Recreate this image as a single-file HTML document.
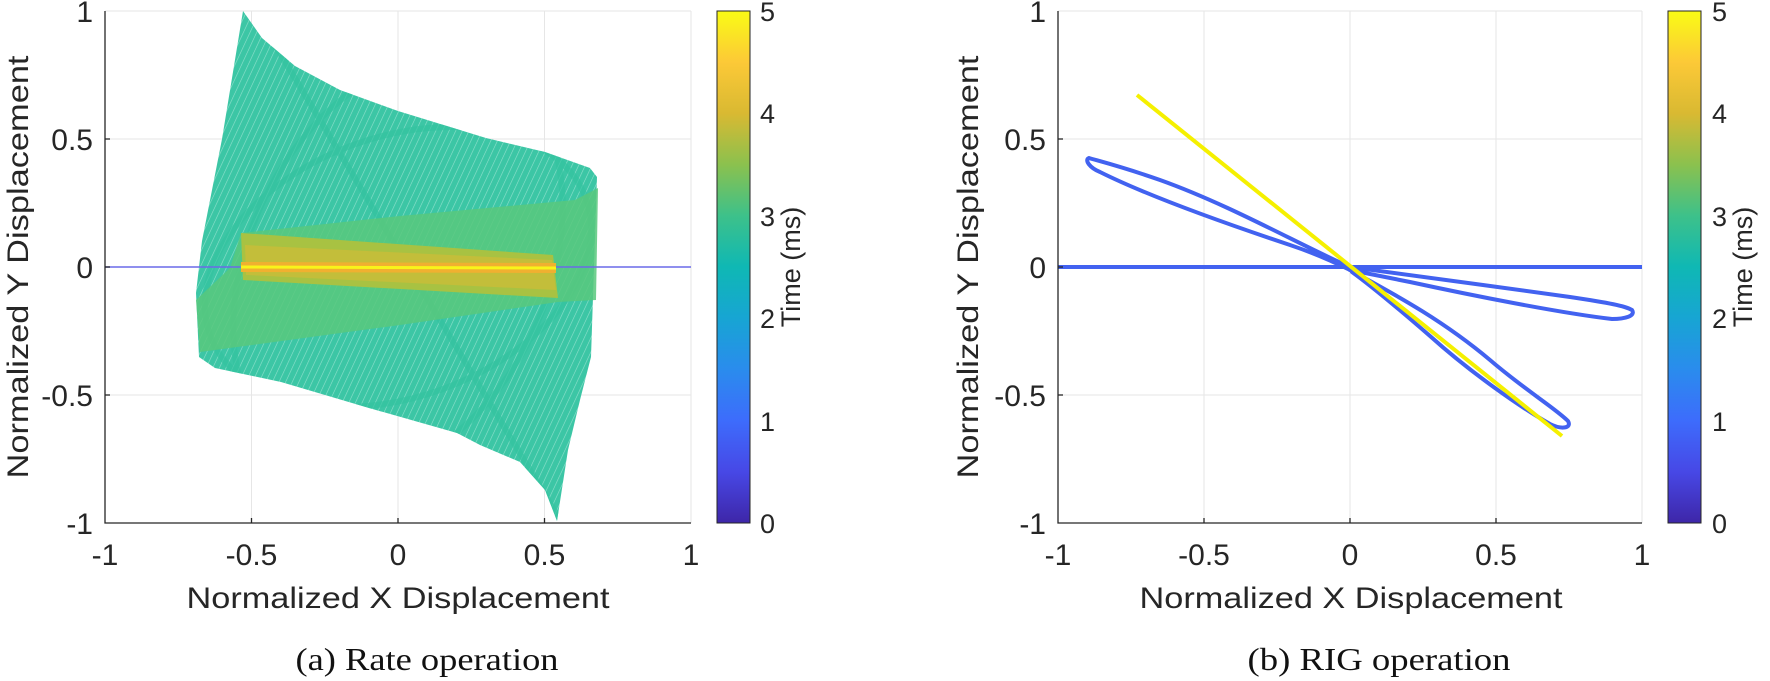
<!DOCTYPE html>
<html><head><meta charset="utf-8"><style>
html,body{margin:0;padding:0;background:#fff;}
svg{display:block;}
text{font-family:"Liberation Sans",sans-serif;fill:#262626;}
.cap{font-family:"Liberation Serif",serif;fill:#111;}
</style></head><body>
<svg width="1770" height="681" viewBox="0 0 1770 681" xmlns="http://www.w3.org/2000/svg">
<defs>
<linearGradient id="parula" x1="0" y1="1" x2="0" y2="0">
<stop offset="0" stop-color="#3e26a8"/><stop offset="0.1" stop-color="#4748e6"/>
<stop offset="0.2" stop-color="#3d6cfc"/><stop offset="0.3" stop-color="#2a8ced"/>
<stop offset="0.4" stop-color="#17a5d3"/><stop offset="0.5" stop-color="#0fb8b4"/>
<stop offset="0.6" stop-color="#3dc18a"/><stop offset="0.7" stop-color="#8bc14e"/>
<stop offset="0.8" stop-color="#d9b932"/><stop offset="0.9" stop-color="#fcc937"/>
<stop offset="1" stop-color="#f9fb15"/>
</linearGradient>
<clipPath id="hull"><polygon points="243,11 262,38 295,66 340,90 398,111 486,138 545,152 590,168 597,177 594,267 591,357 580,400 568,450 557,521 545,490 520,462 480,445 457,433 369,408 281,382 215,368 199,357 196,293 202,241 222,139"/></clipPath>
<pattern id="mesh" width="6" height="6" patternUnits="userSpaceOnUse" patternTransform="rotate(25)">
<rect width="6" height="6" fill="#3cc6a5"/><line x1="0" y1="0" x2="0" y2="6" stroke="#8fe0cc" stroke-width="1.2"/>
</pattern>
</defs>

<!-- LEFT PLOT -->
<g stroke="#e6e6e6" stroke-width="1">
<line x1="251.5" y1="11" x2="251.5" y2="523"/><line x1="398" y1="11" x2="398" y2="523"/><line x1="544.5" y1="11" x2="544.5" y2="523"/><line x1="691" y1="11" x2="691" y2="523"/>
<line x1="105" y1="139" x2="691" y2="139"/><line x1="105" y1="267" x2="691" y2="267"/><line x1="105" y1="395" x2="691" y2="395"/><line x1="105" y1="11" x2="691" y2="11"/>
</g>
<polygon points="243,11 262,38 295,66 340,90 398,111 486,138 545,152 590,168 597,177 594,267 591,357 580,400 568,450 557,521 545,490 520,462 480,445 457,433 369,408 281,382 215,368 199,357 196,293 202,241 222,139" fill="url(#mesh)"/>
<g clip-path="url(#hull)" fill="none" stroke="#34c3a0" stroke-width="6" opacity="0.7">
<ellipse cx="398" cy="267" rx="200" ry="130" transform="rotate(-20 398 267)"/>
<ellipse cx="398" cy="267" rx="150" ry="220" transform="rotate(25 398 267)"/>
<line x1="260" y1="20" x2="560" y2="520"/>
</g>
<polygon points="241,233 400,216 575,200 598,188 596,300 558,302 400,325 200,352 196,300 230,268" fill="#58c87c" opacity="0.85"/>
<polygon points="241,233 553,255 558,298 243,280" fill="#a8c242"/>
<polygon points="245,245 552,260 556,290 246,275" fill="#c9bd38" opacity="0.8"/>
<line x1="105" y1="267" x2="691" y2="267" stroke="#6a6ae8" stroke-width="1.5"/>
<line x1="241" y1="267" x2="556" y2="268" stroke="#f0b030" stroke-width="10"/>
<line x1="241" y1="267" x2="556" y2="268" stroke="#f8f41a" stroke-width="3"/>
<g stroke="#262626" stroke-width="1.3" fill="none">
<polyline points="105,11 105,523 691,523"/>
<line x1="251.5" y1="523" x2="251.5" y2="518"/><line x1="398" y1="523" x2="398" y2="518"/><line x1="544.5" y1="523" x2="544.5" y2="518"/>
<line x1="105" y1="139" x2="110" y2="139"/><line x1="105" y1="267" x2="110" y2="267"/><line x1="105" y1="395" x2="110" y2="395"/>
</g>
<g font-size="30" text-anchor="middle">
<text x="105" y="565">-1</text><text x="251.5" y="565">-0.5</text><text x="398" y="565">0</text><text x="544.5" y="565">0.5</text><text x="691" y="565">1</text>
</g>
<g font-size="30" text-anchor="end">
<text x="93" y="22">1</text><text x="93" y="150">0.5</text><text x="93" y="278">0</text><text x="93" y="406">-0.5</text><text x="93" y="534">-1</text>
</g>
<text x="398" y="608" font-size="30" text-anchor="middle" textLength="423" lengthAdjust="spacingAndGlyphs">Normalized X Displacement</text>
<text transform="translate(28,267) rotate(-90)" font-size="30" text-anchor="middle" textLength="423" lengthAdjust="spacingAndGlyphs">Normalized Y Displacement</text>
<rect x="717" y="11" width="33" height="512" fill="url(#parula)" stroke="#262626" stroke-width="1"/>
<g font-size="27">
<text x="760" y="533">0</text><text x="760" y="431">1</text><text x="760" y="328">2</text><text x="760" y="226">3</text><text x="760" y="123">4</text><text x="760" y="21">5</text>
</g>
<text transform="translate(800,267) rotate(-90)" font-size="27" text-anchor="middle">Time (ms)</text>
<text class="cap" x="427" y="670" font-size="32" text-anchor="middle" textLength="263" lengthAdjust="spacingAndGlyphs">(a)  Rate operation</text>

<!-- RIGHT PLOT -->
<g stroke="#e6e6e6" stroke-width="1">
<line x1="1204" y1="11" x2="1204" y2="523"/><line x1="1350" y1="11" x2="1350" y2="523"/><line x1="1496" y1="11" x2="1496" y2="523"/><line x1="1642" y1="11" x2="1642" y2="523"/>
<line x1="1058" y1="139" x2="1642" y2="139"/><line x1="1058" y1="267" x2="1642" y2="267"/><line x1="1058" y1="395" x2="1642" y2="395"/><line x1="1058" y1="11" x2="1642" y2="11"/>
</g>
<line x1="1058" y1="267" x2="1642" y2="267" stroke="#4262f0" stroke-width="4"/>
<g fill="none" stroke="#4262f0" stroke-width="4" stroke-linejoin="round" stroke-linecap="round">
<path d="M1350,267 C1300,245 1230,205 1160,180 C1120,166 1095,160 1089,158 C1084,160 1090,168 1100,172 C1150,197 1230,225 1290,245 C1320,255 1340,265 1350,270"/>
<path d="M1350,267 C1400,274 1500,287 1570,297 C1610,303 1625,306 1632,310 C1636,316 1625,319 1612,319 C1560,313 1470,295 1410,282 C1385,277 1360,272 1350,270"/>
<path d="M1350,270 C1390,292 1440,318 1490,360 C1525,390 1555,408 1568,421 C1572,428 1562,430 1550,424 C1520,407 1470,372 1430,336 C1400,310 1370,285 1352,272"/>
</g>
<line x1="1137" y1="95" x2="1562" y2="436" stroke="#f5f000" stroke-width="4"/>
<g stroke="#262626" stroke-width="1.3" fill="none">
<polyline points="1058,11 1058,523 1642,523"/>
<line x1="1204" y1="523" x2="1204" y2="518"/><line x1="1350" y1="523" x2="1350" y2="518"/><line x1="1496" y1="523" x2="1496" y2="518"/>
<line x1="1058" y1="139" x2="1063" y2="139"/><line x1="1058" y1="267" x2="1063" y2="267"/><line x1="1058" y1="395" x2="1063" y2="395"/>
</g>
<g font-size="30" text-anchor="middle">
<text x="1058" y="565">-1</text><text x="1204" y="565">-0.5</text><text x="1350" y="565">0</text><text x="1496" y="565">0.5</text><text x="1642" y="565">1</text>
</g>
<g font-size="30" text-anchor="end">
<text x="1046" y="22">1</text><text x="1046" y="150">0.5</text><text x="1046" y="278">0</text><text x="1046" y="406">-0.5</text><text x="1046" y="534">-1</text>
</g>
<text x="1351" y="608" font-size="30" text-anchor="middle" textLength="423" lengthAdjust="spacingAndGlyphs">Normalized X Displacement</text>
<text transform="translate(978,267) rotate(-90)" font-size="30" text-anchor="middle" textLength="423" lengthAdjust="spacingAndGlyphs">Normalized Y Displacement</text>
<rect x="1668" y="11" width="33" height="512" fill="url(#parula)" stroke="#262626" stroke-width="1"/>
<g font-size="27">
<text x="1712" y="533">0</text><text x="1712" y="431">1</text><text x="1712" y="328">2</text><text x="1712" y="226">3</text><text x="1712" y="123">4</text><text x="1712" y="21">5</text>
</g>
<text transform="translate(1752,267) rotate(-90)" font-size="27" text-anchor="middle">Time (ms)</text>
<text class="cap" x="1379" y="670" font-size="32" text-anchor="middle" textLength="263" lengthAdjust="spacingAndGlyphs">(b)  RIG operation</text>
</svg>
</body></html>
